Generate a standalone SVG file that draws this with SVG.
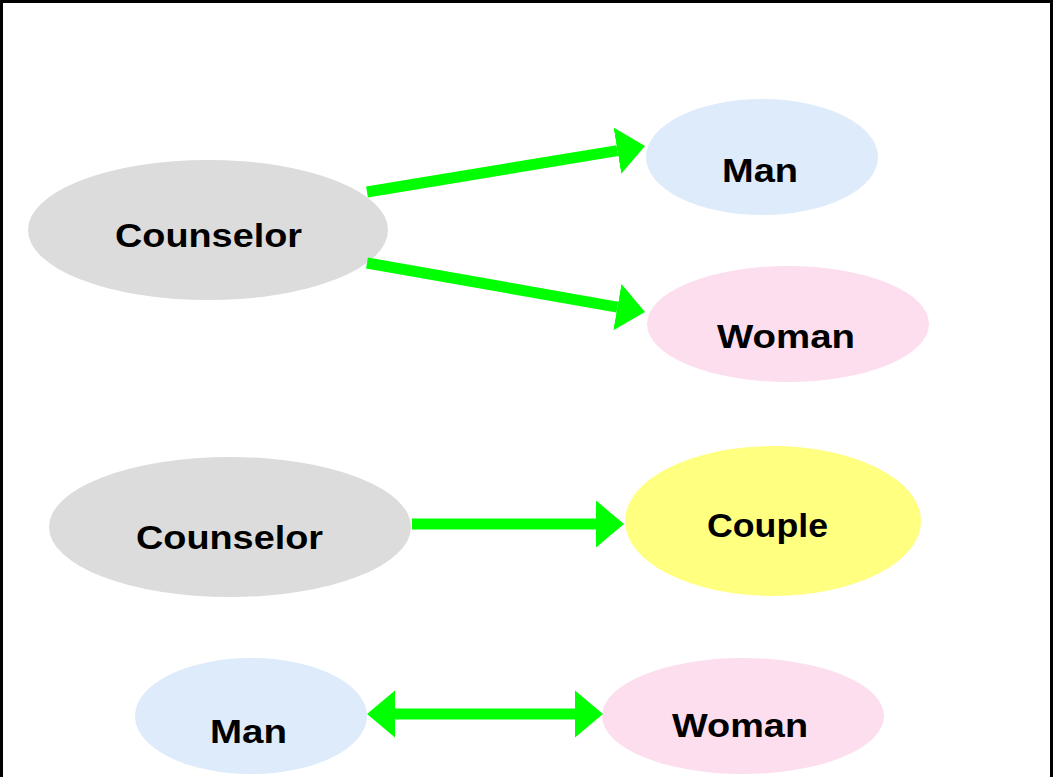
<svg xmlns="http://www.w3.org/2000/svg" width="1053" height="777" viewBox="0 0 1053 777">
  <style>
    .lbl { font-family: "Liberation Sans", Arial, sans-serif; font-weight: bold; font-size: 33.5px; fill: #000; text-anchor: middle; }
    .gray { fill: #dcdcdc; }
    .blue { fill: #ddebfb; }
    .pink { fill: #fcdeef; }
    .yellow { fill: #ffff80; }
    .conn { stroke: #00ff00; stroke-width: 11; fill: none; }
  </style>
  <defs>
    <marker id="head" markerUnits="userSpaceOnUse" markerWidth="32" markerHeight="50" viewBox="0 -25 32 50" refX="0" refY="0" orient="auto-start-reverse">
      <path d="M0,-23.5 L28,0 L0,23.5 z" fill="#00ff00"/>
    </marker>
  </defs>

  <rect width="1053" height="777" fill="#ffffff"/>
  <!-- frame: top, left and right edges -->
  <path d="M1.5,777 V1.5 H1051.5 V777" fill="none" stroke="#000" stroke-width="3"/>

  <g id="counselor-1">
    <ellipse class="gray" cx="208" cy="230" rx="180" ry="70"/>
    <text class="lbl" x="208.5" y="247" textLength="187" lengthAdjust="spacingAndGlyphs">Counselor</text>
  </g>
  <g id="man-1">
    <ellipse class="blue" cx="762" cy="157" rx="116" ry="58"/>
    <text class="lbl" x="760" y="182" textLength="76" lengthAdjust="spacingAndGlyphs">Man</text>
  </g>
  <g id="woman-1">
    <ellipse class="pink" cx="788" cy="324" rx="141" ry="58"/>
    <text class="lbl" x="786" y="348" textLength="138" lengthAdjust="spacingAndGlyphs">Woman</text>
  </g>
  <g id="counselor-2">
    <ellipse class="gray" cx="230" cy="527" rx="181" ry="70"/>
    <text class="lbl" x="229.5" y="549" textLength="187" lengthAdjust="spacingAndGlyphs">Counselor</text>
  </g>
  <g id="couple">
    <ellipse class="yellow" cx="773" cy="521" rx="148" ry="75"/>
    <text class="lbl" x="767.5" y="537" textLength="121" lengthAdjust="spacingAndGlyphs">Couple</text>
  </g>
  <g id="man-2">
    <ellipse class="blue" cx="251" cy="716" rx="116" ry="58"/>
    <text class="lbl" x="248.5" y="743" textLength="77" lengthAdjust="spacingAndGlyphs">Man</text>
  </g>
  <g id="woman-2">
    <ellipse class="pink" cx="743" cy="716" rx="141" ry="58"/>
    <text class="lbl" x="740" y="737" textLength="136" lengthAdjust="spacingAndGlyphs">Woman</text>
  </g>

  <g id="connectors">
    <line class="conn" x1="367" y1="192" x2="617.4" y2="150.6" marker-end="url(#head)"/>
    <line class="conn" x1="367" y1="263" x2="617.4" y2="307.1" marker-end="url(#head)"/>
    <line class="conn" x1="412" y1="524" x2="596" y2="524" marker-end="url(#head)"/>
    <line class="conn" x1="395" y1="714" x2="575" y2="714" marker-start="url(#head)" marker-end="url(#head)"/>
  </g>
</svg>
